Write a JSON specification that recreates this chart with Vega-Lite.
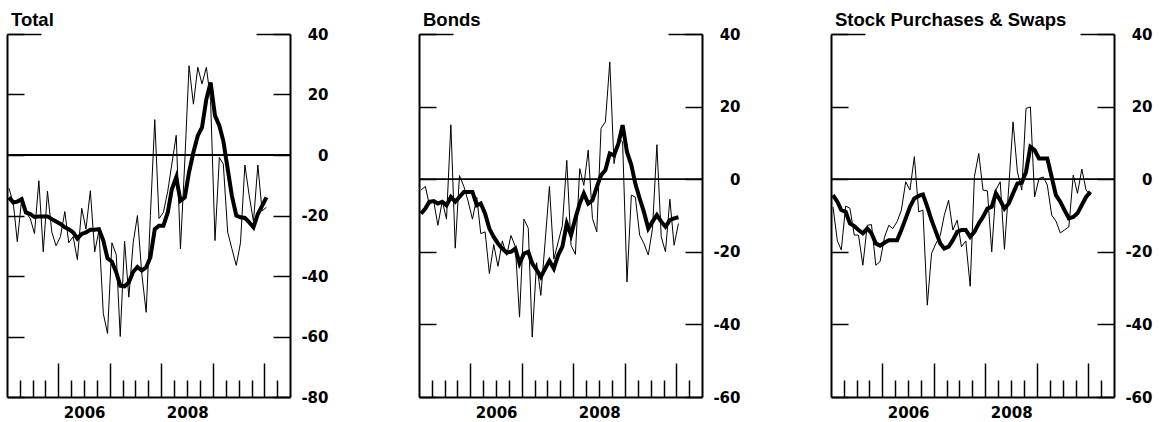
{
  "$schema": "https://vega.github.io/schema/vega-lite/v6.json",
  "padding": {"left": 0, "top": 10, "right": 5, "bottom": 5},
  "spacing": 129,
  "bounds": "flush",
  "config": {
    "view": {"stroke": null},
    "axis": {"grid": false, "title": null, "domainColor": "black", "domainWidth": 2, "tickColor": "black", "tickWidth": 1.5, "labelColor": "black", "labelFont": "DejaVu Sans", "labelFontWeight": "bold", "labelFontSize": 15},
    "title": {"anchor": "start", "font": "Liberation Sans", "fontSize": 18.5, "fontWeight": "bold", "color": "black", "baseline": "alphabetic", "offset": -2, "dx": 10}
  },
  "datasets": {
    "d": [
      {"date": "2005-01-15", "total": -11, "total_avg": -14, "bonds": -3, "bonds_avg": -9.5, "stock": -7.6, "stock_avg": -4.4},
      {"date": "2005-02-15", "total": -16, "total_avg": -15.7, "bonds": -2, "bonds_avg": -8.1, "stock": -17, "stock_avg": -6.2},
      {"date": "2005-03-15", "total": -28.7, "total_avg": -15.4, "bonds": -7, "bonds_avg": -6.2, "stock": -19.5, "stock_avg": -8.5},
      {"date": "2005-04-15", "total": -14.6, "total_avg": -14.6, "bonds": -6, "bonds_avg": -6, "stock": -7.4, "stock_avg": -9},
      {"date": "2005-05-15", "total": -19, "total_avg": -19, "bonds": -12.7, "bonds_avg": -6.7, "stock": -8, "stock_avg": -12.2},
      {"date": "2005-06-15", "total": -21, "total_avg": -19.5, "bonds": -6, "bonds_avg": -6.2, "stock": -15.4, "stock_avg": -12.9},
      {"date": "2005-07-15", "total": -26, "total_avg": -20.5, "bonds": -11, "bonds_avg": -7.2, "stock": -15.4, "stock_avg": -14},
      {"date": "2005-08-15", "total": -8.5, "total_avg": -20.3, "bonds": 15, "bonds_avg": -4.9, "stock": -23.7, "stock_avg": -14.9},
      {"date": "2005-09-15", "total": -32, "total_avg": -20.3, "bonds": -19, "bonds_avg": -6.2, "stock": -12.7, "stock_avg": -13.6},
      {"date": "2005-10-15", "total": -12, "total_avg": -20.3, "bonds": 1, "bonds_avg": -4.9, "stock": -12.5, "stock_avg": -14.9},
      {"date": "2005-11-15", "total": -25.5, "total_avg": -21.2, "bonds": -2, "bonds_avg": -3.5, "stock": -23.7, "stock_avg": -17.7},
      {"date": "2005-12-15", "total": -30, "total_avg": -22, "bonds": -6, "bonds_avg": -3.5, "stock": -22.7, "stock_avg": -18.3},
      {"date": "2006-01-15", "total": -27, "total_avg": -22.8, "bonds": -11, "bonds_avg": -3.5, "stock": -16, "stock_avg": -17.5},
      {"date": "2006-02-15", "total": -18.7, "total_avg": -23.9, "bonds": -5, "bonds_avg": -7.2, "stock": -12.7, "stock_avg": -16.8},
      {"date": "2006-03-15", "total": -29, "total_avg": -24.5, "bonds": -15, "bonds_avg": -6.7, "stock": -13.6, "stock_avg": -16.8},
      {"date": "2006-04-15", "total": -27, "total_avg": -25.6, "bonds": -14.5, "bonds_avg": -9.5, "stock": -11.7, "stock_avg": -16.8},
      {"date": "2006-05-15", "total": -34.6, "total_avg": -27.6, "bonds": -26, "bonds_avg": -13.6, "stock": -8.5, "stock_avg": -14},
      {"date": "2006-06-15", "total": -17.6, "total_avg": -26.1, "bonds": -18, "bonds_avg": -15.9, "stock": -0.7, "stock_avg": -10.8},
      {"date": "2006-07-15", "total": -24.5, "total_avg": -25.6, "bonds": -24, "bonds_avg": -17.7, "stock": -3, "stock_avg": -7.6},
      {"date": "2006-08-15", "total": -11.8, "total_avg": -24.7, "bonds": -17, "bonds_avg": -19.1, "stock": 6.2, "stock_avg": -5.3},
      {"date": "2006-09-15", "total": -32, "total_avg": -24.7, "bonds": -21, "bonds_avg": -20.2, "stock": -9, "stock_avg": -4.6},
      {"date": "2006-10-15", "total": -25, "total_avg": -24.5, "bonds": -15.5, "bonds_avg": -20, "stock": -8.5, "stock_avg": -4.2},
      {"date": "2006-11-15", "total": -52.4, "total_avg": -28.3, "bonds": -18.5, "bonds_avg": -19.1, "stock": -34.7, "stock_avg": -7.6},
      {"date": "2006-12-15", "total": -59, "total_avg": -34.2, "bonds": -38, "bonds_avg": -23.2, "stock": -20.5, "stock_avg": -11.3},
      {"date": "2007-01-15", "total": -29, "total_avg": -35.3, "bonds": -11, "bonds_avg": -20.5, "stock": -17.7, "stock_avg": -14.5},
      {"date": "2007-02-15", "total": -33, "total_avg": -38.8, "bonds": -13.5, "bonds_avg": -20, "stock": -15.5, "stock_avg": -17.7},
      {"date": "2007-03-15", "total": -60, "total_avg": -43.2, "bonds": -43.5, "bonds_avg": -23.2, "stock": -10, "stock_avg": -19.1},
      {"date": "2007-04-15", "total": -28.5, "total_avg": -43.4, "bonds": -23, "bonds_avg": -25, "stock": -5.8, "stock_avg": -18.6},
      {"date": "2007-05-15", "total": -47, "total_avg": -42.1, "bonds": -32, "bonds_avg": -26.9, "stock": -14, "stock_avg": -16.8},
      {"date": "2007-06-15", "total": -29, "total_avg": -38.6, "bonds": -17, "bonds_avg": -24.6, "stock": -11.3, "stock_avg": -14.5},
      {"date": "2007-07-15", "total": -20, "total_avg": -37, "bonds": -2, "bonds_avg": -22.5, "stock": -18.6, "stock_avg": -14},
      {"date": "2007-08-15", "total": -39.3, "total_avg": -38.2, "bonds": -22, "bonds_avg": -24.6, "stock": -17, "stock_avg": -14},
      {"date": "2007-09-15", "total": -52, "total_avg": -37.1, "bonds": -17.3, "bonds_avg": -20.9, "stock": -29.5, "stock_avg": -15.9},
      {"date": "2007-10-15", "total": -20, "total_avg": -33.8, "bonds": -12.7, "bonds_avg": -18.6, "stock": 0.7, "stock_avg": -14.5},
      {"date": "2007-11-15", "total": 11.7, "total_avg": -24.5, "bonds": 5.2, "bonds_avg": -12.2, "stock": 7.1, "stock_avg": -12.2},
      {"date": "2007-12-15", "total": -21, "total_avg": -23.4, "bonds": -18.2, "bonds_avg": -15.4, "stock": -3, "stock_avg": -10.4},
      {"date": "2008-01-15", "total": -19, "total_avg": -23.4, "bonds": -20.7, "bonds_avg": -10.8, "stock": -3.2, "stock_avg": -8.1},
      {"date": "2008-02-15", "total": -12, "total_avg": -19, "bonds": 2.9, "bonds_avg": -6.7, "stock": -20, "stock_avg": -7.6},
      {"date": "2008-03-15", "total": -3, "total_avg": -11.3, "bonds": -1.7, "bonds_avg": -3.9, "stock": -3, "stock_avg": -3.9},
      {"date": "2008-04-15", "total": 6.5, "total_avg": -7.4, "bonds": 8, "bonds_avg": -6.7, "stock": -0.7, "stock_avg": -5.8},
      {"date": "2008-05-15", "total": -31, "total_avg": -15.1, "bonds": -10.8, "bonds_avg": -5.8, "stock": -19.3, "stock_avg": -8.1},
      {"date": "2008-06-15", "total": -2, "total_avg": -14, "bonds": -14.5, "bonds_avg": -2.1, "stock": -2, "stock_avg": -6.7},
      {"date": "2008-07-15", "total": 29.5, "total_avg": -5.7, "bonds": 14, "bonds_avg": 1.1, "stock": 15.8, "stock_avg": -3.9},
      {"date": "2008-08-15", "total": 16.8, "total_avg": 0.9, "bonds": 15.8, "bonds_avg": 2.5, "stock": 2, "stock_avg": -1.2},
      {"date": "2008-09-15", "total": 29, "total_avg": 6.4, "bonds": 32.3, "bonds_avg": 7.1, "stock": -3, "stock_avg": -1},
      {"date": "2008-10-15", "total": 23.5, "total_avg": 9.1, "bonds": 4.3, "bonds_avg": 6.6, "stock": 19.5, "stock_avg": 2},
      {"date": "2008-11-15", "total": 29, "total_avg": 18.5, "bonds": 11.2, "bonds_avg": 9.8, "stock": 19.9, "stock_avg": 8.9},
      {"date": "2008-12-15", "total": 18, "total_avg": 24, "bonds": 10.3, "bonds_avg": 14.9, "stock": -4.9, "stock_avg": 8},
      {"date": "2009-01-15", "total": -28.3, "total_avg": 13, "bonds": -28.3, "bonds_avg": 7.5, "stock": 0.2, "stock_avg": 5.7},
      {"date": "2009-02-15", "total": -0.8, "total_avg": 9.7, "bonds": -4.4, "bonds_avg": 3.9, "stock": 0.6, "stock_avg": 5.7},
      {"date": "2009-03-15", "total": -3, "total_avg": 4.7, "bonds": -4.9, "bonds_avg": -1.2, "stock": -1.6, "stock_avg": 5.7},
      {"date": "2009-04-15", "total": -25.5, "total_avg": -4.6, "bonds": -15.4, "bonds_avg": -5.3, "stock": -9.9, "stock_avg": 0.6},
      {"date": "2009-05-15", "total": -31, "total_avg": -13.5, "bonds": -17.7, "bonds_avg": -9, "stock": -11.5, "stock_avg": -4.4},
      {"date": "2009-06-15", "total": -36.5, "total_avg": -20, "bonds": -20.9, "bonds_avg": -13.6, "stock": -14.8, "stock_avg": -6.2},
      {"date": "2009-07-15", "total": -29, "total_avg": -20.6, "bonds": -13.6, "bonds_avg": -11.7, "stock": -14, "stock_avg": -8.5},
      {"date": "2009-08-15", "total": -3.3, "total_avg": -20.8, "bonds": 9.5, "bonds_avg": -9.9, "stock": -13.1, "stock_avg": -10.8},
      {"date": "2009-09-15", "total": -13.5, "total_avg": -22.3, "bonds": -15.9, "bonds_avg": -11.7, "stock": 1.1, "stock_avg": -10.4},
      {"date": "2009-10-15", "total": -22, "total_avg": -23.9, "bonds": -20, "bonds_avg": -13.1, "stock": -3.9, "stock_avg": -9.4},
      {"date": "2009-11-15", "total": -3.3, "total_avg": -19.5, "bonds": -5.5, "bonds_avg": -11.3, "stock": 2.8, "stock_avg": -7.1},
      {"date": "2009-12-15", "total": -18.5, "total_avg": -16.8, "bonds": -18.2, "bonds_avg": -10.8, "stock": -3, "stock_avg": -4.9},
      {"date": "2010-01-15", "total": -17.3, "total_avg": -14, "bonds": -12.2, "bonds_avg": -10.5, "stock": -4.4, "stock_avg": -3.5}
    ]
  },
  "hconcat": [
    {
      "title": "Total",
      "width": 283, "height": 363,
      "resolve": {"axis": {"x": "independent", "y": "independent"}},
      "layer": [
        {"data": {"values": [{}]}, "mark": {"type": "rule", "color": "black", "strokeWidth": 1.8},
         "encoding": {
           "x": {"datum": {"year": 2005, "month": 1, "date": 1, "utc": true}, "type": "temporal", "scale": {"type": "utc", "nice": false, "domain": [{"year": 2005, "month": 1, "date": 1, "utc": true}, {"year": 2010, "month": 7, "date": 1, "utc": true}]}, "axis": null},
           "x2": {"datum": {"year": 2010, "month": 7, "date": 1, "utc": true}},
           "y": {"datum": 0, "type": "quantitative", "scale": {"domain": [-80, 40], "nice": false}, "axis": {"orient": "left", "values": [-80, -60, -40, -20, 0, 20, 40], "tickSize": -17, "labels": false, "domain": true}}}},
        {"data": {"values": [{}]}, "mark": {"type": "rule", "color": "black", "strokeWidth": 1.8, "strokeOpacity": 0},
         "encoding": {
           "x": {"datum": {"year": 2005, "month": 1, "date": 1, "utc": true}, "type": "temporal", "scale": {"type": "utc", "nice": false, "domain": [{"year": 2005, "month": 1, "date": 1, "utc": true}, {"year": 2010, "month": 7, "date": 1, "utc": true}]}, "axis": null},
           "x2": {"datum": {"year": 2010, "month": 7, "date": 1, "utc": true}},
           "y": {"datum": 0, "type": "quantitative", "scale": {"domain": [-80, 40], "nice": false}, "axis": {"orient": "left", "values": [40], "tickSize": -34, "labels": false, "domain": false}}}},
        {"data": {"values": [{}]}, "mark": {"type": "rule", "color": "black", "strokeWidth": 1.8, "strokeOpacity": 0},
         "encoding": {
           "x": {"datum": {"year": 2005, "month": 1, "date": 1, "utc": true}, "type": "temporal", "scale": {"type": "utc", "nice": false, "domain": [{"year": 2005, "month": 1, "date": 1, "utc": true}, {"year": 2010, "month": 7, "date": 1, "utc": true}]}, "axis": null},
           "x2": {"datum": {"year": 2010, "month": 7, "date": 1, "utc": true}},
           "y": {"datum": 0, "type": "quantitative", "scale": {"domain": [-80, 40], "nice": false}, "axis": {"orient": "right", "values": [40], "tickSize": -34, "labels": false, "domain": false}}}},
        {"data": {"values": [{}]}, "mark": {"type": "rule", "color": "black", "strokeWidth": 1.8, "strokeOpacity": 0},
         "encoding": {
           "x": {"datum": {"year": 2005, "month": 1, "date": 1, "utc": true}, "type": "temporal", "scale": {"type": "utc", "nice": false, "domain": [{"year": 2005, "month": 1, "date": 1, "utc": true}, {"year": 2010, "month": 7, "date": 1, "utc": true}]}, "axis": null},
           "x2": {"datum": {"year": 2010, "month": 7, "date": 1, "utc": true}},
           "y": {"datum": 0, "type": "quantitative", "scale": {"domain": [-80, 40], "nice": false}, "axis": {"orient": "right", "values": [-80, -60, -40, -20, 0, 20, 40], "ticks": false, "domain": false, "labelAlign": "right", "labelPadding": 38, "labelExpr": "'' + datum.value"}}}},
        {"data": {"name": "d"}, "mark": {"type": "line", "color": "black", "strokeWidth": 1},
         "encoding": {
           "x": {"field": "date", "type": "temporal", "scale": {"type": "utc", "nice": false, "domain": [{"year": 2005, "month": 1, "date": 1, "utc": true}, {"year": 2010, "month": 7, "date": 1, "utc": true}]},
                 "axis": {"orient": "bottom", "tickSize": -17, "labels": false, "domain": false, "values": [{"year": 2005, "month": 4, "date": 1, "utc": true}, {"year": 2005, "month": 7, "date": 1, "utc": true}, {"year": 2005, "month": 10, "date": 1, "utc": true}, {"year": 2006, "month": 4, "date": 1, "utc": true}, {"year": 2006, "month": 7, "date": 1, "utc": true}, {"year": 2006, "month": 10, "date": 1, "utc": true}, {"year": 2007, "month": 4, "date": 1, "utc": true}, {"year": 2007, "month": 7, "date": 1, "utc": true}, {"year": 2007, "month": 10, "date": 1, "utc": true}, {"year": 2008, "month": 4, "date": 1, "utc": true}, {"year": 2008, "month": 7, "date": 1, "utc": true}, {"year": 2008, "month": 10, "date": 1, "utc": true}, {"year": 2009, "month": 4, "date": 1, "utc": true}, {"year": 2009, "month": 7, "date": 1, "utc": true}, {"year": 2009, "month": 10, "date": 1, "utc": true}, {"year": 2010, "month": 4, "date": 1, "utc": true}]}},
           "y": {"field": "total", "type": "quantitative", "scale": {"domain": [-80, 40], "nice": false}, "axis": {"orient": "right", "values": [-80, -60, -40, -20, 0, 20, 40], "tickSize": -17, "labels": false, "domain": true}}}},
        {"data": {"name": "d"}, "mark": {"type": "line", "color": "black", "strokeWidth": 4},
         "encoding": {
           "x": {"field": "date", "type": "temporal", "scale": {"type": "utc", "nice": false, "domain": [{"year": 2005, "month": 1, "date": 1, "utc": true}, {"year": 2010, "month": 7, "date": 1, "utc": true}]},
                 "axis": {"orient": "bottom", "tickSize": -34, "labels": false, "domain": true, "values": [{"year": 2006, "month": 1, "date": 1, "utc": true}, {"year": 2007, "month": 1, "date": 1, "utc": true}, {"year": 2008, "month": 1, "date": 1, "utc": true}, {"year": 2009, "month": 1, "date": 1, "utc": true}, {"year": 2010, "month": 1, "date": 1, "utc": true}]}},
           "y": {"field": "total_avg", "type": "quantitative", "scale": {"domain": [-80, 40], "nice": false}, "axis": null}}},
        {"data": {"name": "d"}, "mark": {"type": "line", "color": "black", "strokeWidth": 4, "strokeOpacity": 0},
         "encoding": {
           "x": {"field": "date", "type": "temporal", "scale": {"type": "utc", "nice": false, "domain": [{"year": 2005, "month": 1, "date": 1, "utc": true}, {"year": 2010, "month": 7, "date": 1, "utc": true}]},
                 "axis": {"orient": "bottom", "ticks": false, "domain": false, "labelExpr": "utcFormat(datum.value, '%Y')", "labelPadding": 8, "values": [{"year": 2006, "month": 7, "date": 2, "utc": true}, {"year": 2008, "month": 7, "date": 2, "utc": true}]}},
           "y": {"field": "total_avg", "type": "quantitative", "scale": {"domain": [-80, 40], "nice": false}, "axis": null}}}
      ]
    },
    {
      "title": "Bonds",
      "width": 283, "height": 363,
      "resolve": {"axis": {"x": "independent", "y": "independent"}},
      "layer": [
        {"data": {"values": [{}]}, "mark": {"type": "rule", "color": "black", "strokeWidth": 1.8},
         "encoding": {
           "x": {"datum": {"year": 2005, "month": 1, "date": 1, "utc": true}, "type": "temporal", "scale": {"type": "utc", "nice": false, "domain": [{"year": 2005, "month": 1, "date": 1, "utc": true}, {"year": 2010, "month": 7, "date": 1, "utc": true}]}, "axis": null},
           "x2": {"datum": {"year": 2010, "month": 7, "date": 1, "utc": true}},
           "y": {"datum": 0, "type": "quantitative", "scale": {"domain": [-60, 40], "nice": false}, "axis": {"orient": "left", "values": [-60, -40, -20, 0, 20, 40], "tickSize": -17, "labels": false, "domain": true}}}},
        {"data": {"values": [{}]}, "mark": {"type": "rule", "color": "black", "strokeWidth": 1.8, "strokeOpacity": 0},
         "encoding": {
           "x": {"datum": {"year": 2005, "month": 1, "date": 1, "utc": true}, "type": "temporal", "scale": {"type": "utc", "nice": false, "domain": [{"year": 2005, "month": 1, "date": 1, "utc": true}, {"year": 2010, "month": 7, "date": 1, "utc": true}]}, "axis": null},
           "x2": {"datum": {"year": 2010, "month": 7, "date": 1, "utc": true}},
           "y": {"datum": 0, "type": "quantitative", "scale": {"domain": [-60, 40], "nice": false}, "axis": {"orient": "left", "values": [40], "tickSize": -34, "labels": false, "domain": false}}}},
        {"data": {"values": [{}]}, "mark": {"type": "rule", "color": "black", "strokeWidth": 1.8, "strokeOpacity": 0},
         "encoding": {
           "x": {"datum": {"year": 2005, "month": 1, "date": 1, "utc": true}, "type": "temporal", "scale": {"type": "utc", "nice": false, "domain": [{"year": 2005, "month": 1, "date": 1, "utc": true}, {"year": 2010, "month": 7, "date": 1, "utc": true}]}, "axis": null},
           "x2": {"datum": {"year": 2010, "month": 7, "date": 1, "utc": true}},
           "y": {"datum": 0, "type": "quantitative", "scale": {"domain": [-60, 40], "nice": false}, "axis": {"orient": "right", "values": [40], "tickSize": -34, "labels": false, "domain": false}}}},
        {"data": {"values": [{}]}, "mark": {"type": "rule", "color": "black", "strokeWidth": 1.8, "strokeOpacity": 0},
         "encoding": {
           "x": {"datum": {"year": 2005, "month": 1, "date": 1, "utc": true}, "type": "temporal", "scale": {"type": "utc", "nice": false, "domain": [{"year": 2005, "month": 1, "date": 1, "utc": true}, {"year": 2010, "month": 7, "date": 1, "utc": true}]}, "axis": null},
           "x2": {"datum": {"year": 2010, "month": 7, "date": 1, "utc": true}},
           "y": {"datum": 0, "type": "quantitative", "scale": {"domain": [-60, 40], "nice": false}, "axis": {"orient": "right", "values": [-60, -40, -20, 0, 20, 40], "ticks": false, "domain": false, "labelAlign": "right", "labelPadding": 38, "labelExpr": "'' + datum.value"}}}},
        {"data": {"name": "d"}, "mark": {"type": "line", "color": "black", "strokeWidth": 1},
         "encoding": {
           "x": {"field": "date", "type": "temporal", "scale": {"type": "utc", "nice": false, "domain": [{"year": 2005, "month": 1, "date": 1, "utc": true}, {"year": 2010, "month": 7, "date": 1, "utc": true}]},
                 "axis": {"orient": "bottom", "tickSize": -17, "labels": false, "domain": false, "values": [{"year": 2005, "month": 4, "date": 1, "utc": true}, {"year": 2005, "month": 7, "date": 1, "utc": true}, {"year": 2005, "month": 10, "date": 1, "utc": true}, {"year": 2006, "month": 4, "date": 1, "utc": true}, {"year": 2006, "month": 7, "date": 1, "utc": true}, {"year": 2006, "month": 10, "date": 1, "utc": true}, {"year": 2007, "month": 4, "date": 1, "utc": true}, {"year": 2007, "month": 7, "date": 1, "utc": true}, {"year": 2007, "month": 10, "date": 1, "utc": true}, {"year": 2008, "month": 4, "date": 1, "utc": true}, {"year": 2008, "month": 7, "date": 1, "utc": true}, {"year": 2008, "month": 10, "date": 1, "utc": true}, {"year": 2009, "month": 4, "date": 1, "utc": true}, {"year": 2009, "month": 7, "date": 1, "utc": true}, {"year": 2009, "month": 10, "date": 1, "utc": true}, {"year": 2010, "month": 4, "date": 1, "utc": true}]}},
           "y": {"field": "bonds", "type": "quantitative", "scale": {"domain": [-60, 40], "nice": false}, "axis": {"orient": "right", "values": [-60, -40, -20, 0, 20, 40], "tickSize": -17, "labels": false, "domain": true}}}},
        {"data": {"name": "d"}, "mark": {"type": "line", "color": "black", "strokeWidth": 4},
         "encoding": {
           "x": {"field": "date", "type": "temporal", "scale": {"type": "utc", "nice": false, "domain": [{"year": 2005, "month": 1, "date": 1, "utc": true}, {"year": 2010, "month": 7, "date": 1, "utc": true}]},
                 "axis": {"orient": "bottom", "tickSize": -34, "labels": false, "domain": true, "values": [{"year": 2006, "month": 1, "date": 1, "utc": true}, {"year": 2007, "month": 1, "date": 1, "utc": true}, {"year": 2008, "month": 1, "date": 1, "utc": true}, {"year": 2009, "month": 1, "date": 1, "utc": true}, {"year": 2010, "month": 1, "date": 1, "utc": true}]}},
           "y": {"field": "bonds_avg", "type": "quantitative", "scale": {"domain": [-60, 40], "nice": false}, "axis": null}}},
        {"data": {"name": "d"}, "mark": {"type": "line", "color": "black", "strokeWidth": 4, "strokeOpacity": 0},
         "encoding": {
           "x": {"field": "date", "type": "temporal", "scale": {"type": "utc", "nice": false, "domain": [{"year": 2005, "month": 1, "date": 1, "utc": true}, {"year": 2010, "month": 7, "date": 1, "utc": true}]},
                 "axis": {"orient": "bottom", "ticks": false, "domain": false, "labelExpr": "utcFormat(datum.value, '%Y')", "labelPadding": 8, "values": [{"year": 2006, "month": 7, "date": 2, "utc": true}, {"year": 2008, "month": 7, "date": 2, "utc": true}]}},
           "y": {"field": "bonds_avg", "type": "quantitative", "scale": {"domain": [-60, 40], "nice": false}, "axis": null}}}
      ]
    },
    {
      "title": "Stock Purchases & Swaps",
      "width": 283, "height": 363,
      "resolve": {"axis": {"x": "independent", "y": "independent"}},
      "layer": [
        {"data": {"values": [{}]}, "mark": {"type": "rule", "color": "black", "strokeWidth": 1.8},
         "encoding": {
           "x": {"datum": {"year": 2005, "month": 1, "date": 1, "utc": true}, "type": "temporal", "scale": {"type": "utc", "nice": false, "domain": [{"year": 2005, "month": 1, "date": 1, "utc": true}, {"year": 2010, "month": 7, "date": 1, "utc": true}]}, "axis": null},
           "x2": {"datum": {"year": 2010, "month": 7, "date": 1, "utc": true}},
           "y": {"datum": 0, "type": "quantitative", "scale": {"domain": [-60, 40], "nice": false}, "axis": {"orient": "left", "values": [-60, -40, -20, 0, 20, 40], "tickSize": -17, "labels": false, "domain": true}}}},
        {"data": {"values": [{}]}, "mark": {"type": "rule", "color": "black", "strokeWidth": 1.8, "strokeOpacity": 0},
         "encoding": {
           "x": {"datum": {"year": 2005, "month": 1, "date": 1, "utc": true}, "type": "temporal", "scale": {"type": "utc", "nice": false, "domain": [{"year": 2005, "month": 1, "date": 1, "utc": true}, {"year": 2010, "month": 7, "date": 1, "utc": true}]}, "axis": null},
           "x2": {"datum": {"year": 2010, "month": 7, "date": 1, "utc": true}},
           "y": {"datum": 0, "type": "quantitative", "scale": {"domain": [-60, 40], "nice": false}, "axis": {"orient": "left", "values": [40], "tickSize": -34, "labels": false, "domain": false}}}},
        {"data": {"values": [{}]}, "mark": {"type": "rule", "color": "black", "strokeWidth": 1.8, "strokeOpacity": 0},
         "encoding": {
           "x": {"datum": {"year": 2005, "month": 1, "date": 1, "utc": true}, "type": "temporal", "scale": {"type": "utc", "nice": false, "domain": [{"year": 2005, "month": 1, "date": 1, "utc": true}, {"year": 2010, "month": 7, "date": 1, "utc": true}]}, "axis": null},
           "x2": {"datum": {"year": 2010, "month": 7, "date": 1, "utc": true}},
           "y": {"datum": 0, "type": "quantitative", "scale": {"domain": [-60, 40], "nice": false}, "axis": {"orient": "right", "values": [40], "tickSize": -34, "labels": false, "domain": false}}}},
        {"data": {"values": [{}]}, "mark": {"type": "rule", "color": "black", "strokeWidth": 1.8, "strokeOpacity": 0},
         "encoding": {
           "x": {"datum": {"year": 2005, "month": 1, "date": 1, "utc": true}, "type": "temporal", "scale": {"type": "utc", "nice": false, "domain": [{"year": 2005, "month": 1, "date": 1, "utc": true}, {"year": 2010, "month": 7, "date": 1, "utc": true}]}, "axis": null},
           "x2": {"datum": {"year": 2010, "month": 7, "date": 1, "utc": true}},
           "y": {"datum": 0, "type": "quantitative", "scale": {"domain": [-60, 40], "nice": false}, "axis": {"orient": "right", "values": [-60, -40, -20, 0, 20, 40], "ticks": false, "domain": false, "labelAlign": "right", "labelPadding": 38, "labelExpr": "'' + datum.value"}}}},
        {"data": {"name": "d"}, "mark": {"type": "line", "color": "black", "strokeWidth": 1},
         "encoding": {
           "x": {"field": "date", "type": "temporal", "scale": {"type": "utc", "nice": false, "domain": [{"year": 2005, "month": 1, "date": 1, "utc": true}, {"year": 2010, "month": 7, "date": 1, "utc": true}]},
                 "axis": {"orient": "bottom", "tickSize": -17, "labels": false, "domain": false, "values": [{"year": 2005, "month": 4, "date": 1, "utc": true}, {"year": 2005, "month": 7, "date": 1, "utc": true}, {"year": 2005, "month": 10, "date": 1, "utc": true}, {"year": 2006, "month": 4, "date": 1, "utc": true}, {"year": 2006, "month": 7, "date": 1, "utc": true}, {"year": 2006, "month": 10, "date": 1, "utc": true}, {"year": 2007, "month": 4, "date": 1, "utc": true}, {"year": 2007, "month": 7, "date": 1, "utc": true}, {"year": 2007, "month": 10, "date": 1, "utc": true}, {"year": 2008, "month": 4, "date": 1, "utc": true}, {"year": 2008, "month": 7, "date": 1, "utc": true}, {"year": 2008, "month": 10, "date": 1, "utc": true}, {"year": 2009, "month": 4, "date": 1, "utc": true}, {"year": 2009, "month": 7, "date": 1, "utc": true}, {"year": 2009, "month": 10, "date": 1, "utc": true}, {"year": 2010, "month": 4, "date": 1, "utc": true}]}},
           "y": {"field": "stock", "type": "quantitative", "scale": {"domain": [-60, 40], "nice": false}, "axis": {"orient": "right", "values": [-60, -40, -20, 0, 20, 40], "tickSize": -17, "labels": false, "domain": true}}}},
        {"data": {"name": "d"}, "mark": {"type": "line", "color": "black", "strokeWidth": 4},
         "encoding": {
           "x": {"field": "date", "type": "temporal", "scale": {"type": "utc", "nice": false, "domain": [{"year": 2005, "month": 1, "date": 1, "utc": true}, {"year": 2010, "month": 7, "date": 1, "utc": true}]},
                 "axis": {"orient": "bottom", "tickSize": -34, "labels": false, "domain": true, "values": [{"year": 2006, "month": 1, "date": 1, "utc": true}, {"year": 2007, "month": 1, "date": 1, "utc": true}, {"year": 2008, "month": 1, "date": 1, "utc": true}, {"year": 2009, "month": 1, "date": 1, "utc": true}, {"year": 2010, "month": 1, "date": 1, "utc": true}]}},
           "y": {"field": "stock_avg", "type": "quantitative", "scale": {"domain": [-60, 40], "nice": false}, "axis": null}}},
        {"data": {"name": "d"}, "mark": {"type": "line", "color": "black", "strokeWidth": 4, "strokeOpacity": 0},
         "encoding": {
           "x": {"field": "date", "type": "temporal", "scale": {"type": "utc", "nice": false, "domain": [{"year": 2005, "month": 1, "date": 1, "utc": true}, {"year": 2010, "month": 7, "date": 1, "utc": true}]},
                 "axis": {"orient": "bottom", "ticks": false, "domain": false, "labelExpr": "utcFormat(datum.value, '%Y')", "labelPadding": 8, "values": [{"year": 2006, "month": 7, "date": 2, "utc": true}, {"year": 2008, "month": 7, "date": 2, "utc": true}]}},
           "y": {"field": "stock_avg", "type": "quantitative", "scale": {"domain": [-60, 40], "nice": false}, "axis": null}}}
      ]
    }
  ]
}
